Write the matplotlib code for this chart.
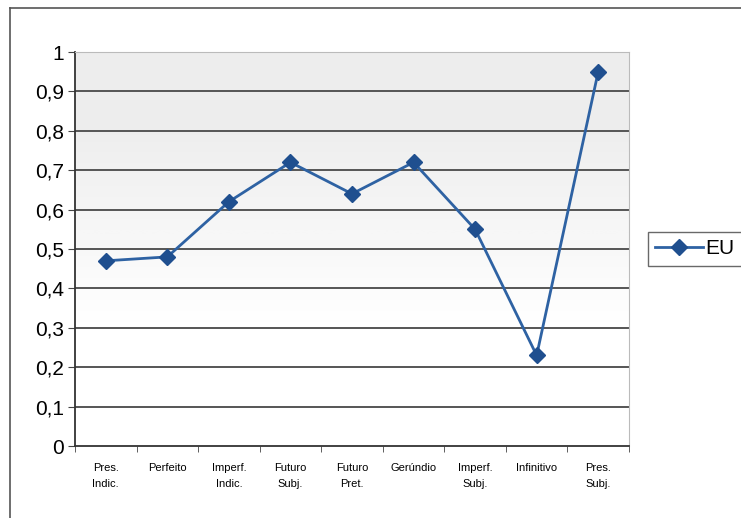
import numpy as np
import matplotlib.pyplot as plt
from matplotlib.lines import Line2D

categories = ['Pres.\nIndic.', 'Perfeito', 'Imperf.\nIndic.', 'Futuro\nSubj.', 'Futuro\nPret.',
              'Gerúndio', 'Imperf.\nSubj.', 'Infinitivo', 'Pres.\nSubj.']
eu = [0.47, 0.48, 0.62, 0.72, 0.64, 0.72, 0.55, 0.23, 0.95]
yticks = [0, 0.1, 0.2, 0.3, 0.4, 0.5, 0.6, 0.7, 0.8, 0.9, 1]
ylabels = ['0', '0,1', '0,2', '0,3', '0,4', '0,5', '0,6', '0,7', '0,8', '0,9', '1']

plt.rcParams['font.family'] = ['Liberation Sans', 'DejaVu Sans']

fig = plt.figure(figsize=(7.41, 5.18), dpi=100)
ax = fig.add_axes([75/741, 1 - 446/518, 554/741, 394/518])

x = np.arange(len(categories))
ax.set_xlim(-0.5, len(categories) - 0.5)
ax.set_ylim(0, 1)

# gray at the top fading to white towards the bottom
t = np.linspace(0, 1, 256)
shade = np.clip((t - 0.3) / 0.5, 0, 1) * 0.14
ax.imshow(shade.reshape(-1, 1), extent=[-0.5, len(categories) - 0.5, 0, 1], aspect='auto',
          cmap='Greys', vmin=0, vmax=1, origin='lower', zorder=0)

for v in yticks[1:-1]:
    ax.axhline(v, color='#555555', lw=1.4, zorder=1)

ax.plot(x, eu, color='#2e62a3', lw=2, marker='D', ms=8, mfc='#1f4f8f', mec='#1f4f8f',
        zorder=3, label='EU')

ax.set_yticks(yticks)
ax.set_yticklabels(ylabels, fontsize=15)
ax.set_xticks(x)
ax.set_xticklabels(categories, fontsize=8, linespacing=1.75)
ax.set_xticks(np.arange(-0.5, len(categories), 1), minor=True)
ax.tick_params(axis='x', which='major', length=0, pad=12)
ax.tick_params(axis='x', which='minor', length=4, color='#444444')
ax.tick_params(axis='y', length=5, color='#444444', pad=3)

for s in ['left', 'bottom']:
    ax.spines[s].set_color('#333333')
    ax.spines[s].set_linewidth(1.3)
for s in ['top', 'right']:
    ax.spines[s].set_color('#bbbbbb')
    ax.spines[s].set_linewidth(0.8)

leg = ax.legend(loc='center left', bbox_to_anchor=((648 - 75) / 554, 0.5), fontsize=15,
                frameon=True, fancybox=False, edgecolor='#444444', handlelength=2.3,
                handletextpad=0.1, borderpad=0.35, borderaxespad=0)
leg.get_frame().set_linewidth(1)

# outer chart border
fig.add_artist(Line2D([10/741, 1], [1 - 8/518, 1 - 8/518], color='#555555', lw=1.2))
fig.add_artist(Line2D([10/741, 10/741], [0, 1 - 8/518], color='#555555', lw=1.2))

fig.savefig('out.png', dpi=100)
